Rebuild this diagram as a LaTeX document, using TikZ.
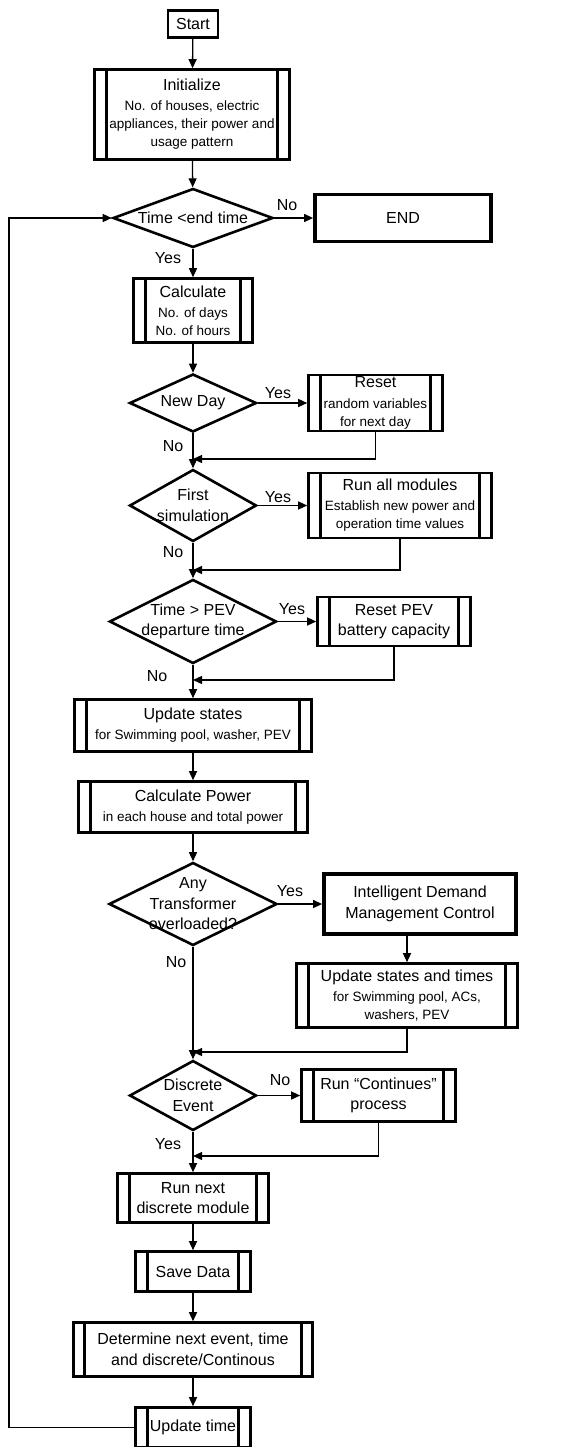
\documentclass[tikz,border=0pt]{standalone}
\usepackage{fontspec}
\setmainfont{Liberation Sans}
\usetikzlibrary{shapes.geometric,arrows.meta,calc}
\newcommand{\Tf}{\fontsize{16}{20.5}\selectfont}
\newcommand{\Sf}{\fontsize{13.5}{18}\selectfont}
\tikzset{
  bx/.style={draw, line width=2.6pt, rectangle, inner sep=0pt, align=center, font=\Tf},
  pbox/.style={bx, path picture={
     \draw[line width=2.6pt] ([xshift=#1]path picture bounding box.north west) -- ([xshift=#1]path picture bounding box.south west);
     \draw[line width=2.6pt] ([xshift=-#1]path picture bounding box.north east) -- ([xshift=-#1]path picture bounding box.south east);}},
  pbox/.default=12pt,
  dia/.style={draw, diamond, line width=2.6pt, inner sep=0pt},
  dtxt/.style={align=center, font=\Tf, inner sep=0pt},
  arr/.style={line width=1.3pt, -{Triangle[length=9pt,width=8pt]}},
  lbl/.style={font=\Tf, inner sep=0pt},
}
\begin{document}
\begin{tikzpicture}[x=1pt,y=-1pt]
\path[use as bounding box, fill=white] (0,0) rectangle (564,1447);

\node[bx, minimum width=50pt, minimum height=27pt] (start) at (193,24) {Start};
\node[pbox, minimum width=195pt, minimum height=90pt, font=\Sf] (init) at (192,114.5)
  {{\Tf Initialize}\\[2pt]No. of houses, electric\\appliances, their power and\\usage pattern};

\node[dia, minimum width=160pt, minimum height=59pt] (d1) at (193,218) {};
\node[dtxt] (d1t) at (d1.center) {Time <end time};
\node[bx, line width=3.8pt, minimum width=176pt, minimum height=47pt] (end) at (403,218) {END};

\node[pbox, minimum width=119pt, minimum height=64pt, font=\Sf] (calc) at (193,310.5)
  {{\Tf Calculate}\\[2pt]No. of days\\No. of hours};

\node[dia, minimum width=127pt, minimum height=58pt] (d2) at (193,403) {};
\node[dtxt] (d2t) at (d2.center) {New Day};
\node[pbox, minimum width=134pt, minimum height=56pt, font=\Sf] (reset) at (375.5,403)
  {{\Tf Reset}\\[3pt]random variables\\for next day};
\coordinate (m1) at (193,459);

\node[dia, minimum width=127pt, minimum height=72pt] (d3) at (193,505.5) {};
\node[dtxt] (d3t) at (d3.center) {First\\simulation};
\node[pbox, minimum width=183pt, minimum height=65pt, font=\Sf] (runall) at (400,505.5)
  {{\Tf Run all modules}\\[2pt]Establish new power and\\operation time values};
\coordinate (m2) at (193,570);

\node[dia, minimum width=167pt, minimum height=84pt] (d4) at (193,621.5) {};
\node[dtxt] (d4t) at (d4.center) {Time > PEV\\departure time};
\node[pbox, minimum width=153pt, minimum height=49pt] (resetpev) at (394,621.5)
  {Reset PEV\\battery capacity};
\coordinate (m3) at (193,680);

\node[pbox, minimum width=237pt, minimum height=52pt, font=\Sf] (upd) at (193,725.5)
  {{\Tf Update states}\\[2pt]for Swimming pool, washer, PEV};
\node[pbox, minimum width=229pt, minimum height=51pt, font=\Sf] (cpow) at (193,807)
  {{\Tf Calculate Power}\\[2pt]in each house and total power};

\node[dia, minimum width=168pt, minimum height=83pt] (d5) at (193,904) {};
\node[dtxt] (d5t) at (d5.center) {Any\\Transformer\\overloaded?};
\node[bx, line width=3.8pt, minimum width=192pt, minimum height=60pt] (idmc) at (420,904)
  {Intelligent Demand\\Management Control};
\node[pbox, minimum width=221pt, minimum height=64pt, font=\Sf] (ust) at (407,995.5)
  {{\Tf Update states and times}\\[2pt]for Swimming pool, ACs,\\washers, PEV};
\coordinate (m4) at (193,1052);

\node[dia, minimum width=127pt, minimum height=70pt] (d6) at (193,1095.5) {};
\node[dtxt] (d6t) at (d6.center) {Discrete\\Event};
\node[pbox, minimum width=154pt, minimum height=52pt] (runc) at (378.5,1095.5)
  {Run “Continues”\\process};
\coordinate (m5) at (193,1156);

\node[pbox, minimum width=151pt, minimum height=49pt] (runnext) at (193,1198)
  {Run next\\discrete module};
\node[pbox, minimum width=115pt, minimum height=40pt] (save) at (193,1271.5) {Save Data};
\node[pbox=11pt, minimum width=239pt, minimum height=54pt] (det) at (193,1349.5)
  {Determine next event, time\\and discrete/Continous};
\node[pbox, minimum width=115pt, minimum height=40pt] (updt) at (193,1427.5) {Update time};
\coordinate (lp1) at (9,1427.5);
\coordinate (lp2) at (9,218);

% connectors
\draw[arr] (start) -- (init);
\draw[arr] (init) -- (d1);
\draw[arr] (d1) -- (end);
\draw[arr] (d1) -- (calc);
\draw[arr] (calc) -- (d2);
\draw[arr] (d2) -- (reset);
\draw[arr] (d2) -- (d3);
\draw[arr] (reset.south) |- (m1);
\draw[arr] (d3) -- (runall);
\draw[arr] (d3) -- (d4);
\draw[arr] (runall.south) |- (m2);
\draw[arr] (d4) -- (resetpev);
\draw[arr] (d4) -- (upd);
\draw[arr] (resetpev.south) |- (m3);
\draw[arr] (upd) -- (cpow);
\draw[arr] (cpow) -- (d5);
\draw[arr] (d5) -- (idmc);
\draw[arr] (d5) -- (d6);
\draw[arr] (idmc.south -| ust.north) -- (ust.north);
\draw[arr] (ust.south) |- (m4);
\draw[arr] (d6) -- (runc);
\draw[arr] (d6) -- (runnext);
\draw[arr] (runc.south) |- (m5);
\draw[arr] (runnext) -- (save);
\draw[arr] (save) -- (det);
\draw[arr] (det) -- (updt);
\draw[arr] (updt.west) -- (lp1) -- (lp2) -- (d1.west);

% labels
\node[lbl] (l1) at (287,205) {No};
\node[lbl] (l2) at (168,258) {Yes};
\node[lbl] (l3) at (278,393) {Yes};
\node[lbl] (l4) at (173,446) {No};
\node[lbl] (l5) at (278,497) {Yes};
\node[lbl] (l6) at (173,552) {No};
\node[lbl] (l7) at (292,609) {Yes};
\node[lbl] (l8) at (157,676) {No};
\node[lbl] (l9) at (290,891) {Yes};
\node[lbl] (l10) at (176,962) {No};
\node[lbl] (l11) at (280,1080) {No};
\node[lbl] (l12) at (168,1144) {Yes};
\end{tikzpicture}
\end{document}
